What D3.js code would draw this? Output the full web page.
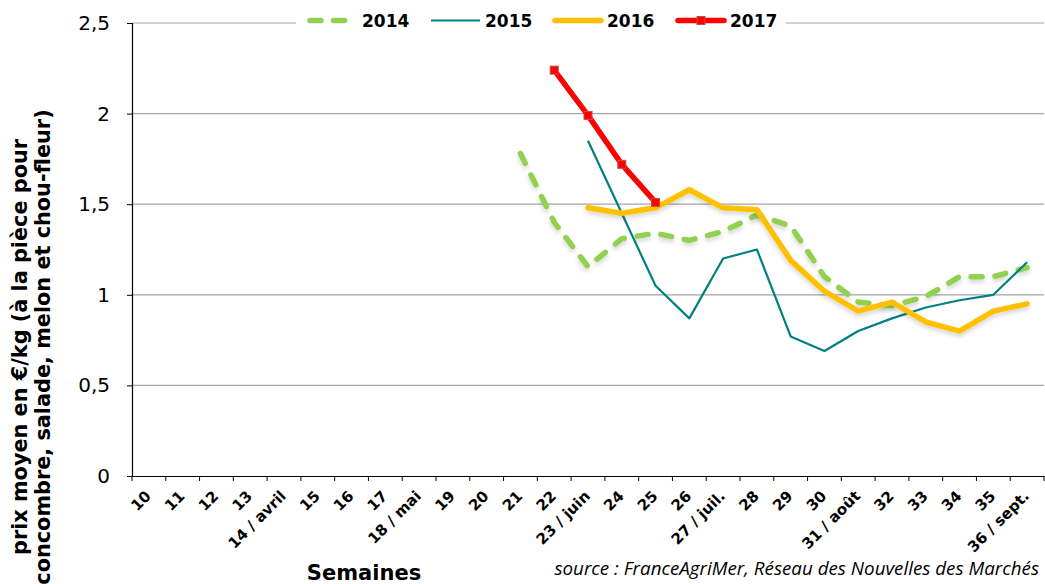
<!DOCTYPE html>
<html><head><meta charset="utf-8">
<script src="https://cdn.jsdelivr.net/npm/d3@7"></script>
<style>body{margin:0;background:#fff}svg{display:block}</style>
</head><body>
<svg id="c" width="1045" height="584"></svg>
<script>
const categories = ["10","11","12","13","14 / avril","15","16","17","18 / mai","19","20","21","22","23 / juin","24","25","26","27 / juil.","28","29","30","31 / août","32","33","34","35","36 / sept."];
const s2014 = [null,null,null,null,null,null,null,null,null,null,null,1.78,1.40,1.155,1.31,1.34,1.30,1.35,1.44,1.38,1.10,0.96,0.94,0.99,1.10,1.10,1.15];
const s2015 = [null,null,null,null,null,null,null,null,null,null,null,null,null,1.85,1.45,1.05,0.87,1.20,1.25,0.77,0.69,0.80,0.87,0.93,0.97,1.00,1.18];
const s2016 = [null,null,null,null,null,null,null,null,null,null,null,null,null,1.48,1.45,1.48,1.58,1.48,1.47,1.19,1.02,0.91,0.96,0.85,0.80,0.91,0.95];
const s2017 = [null,null,null,null,null,null,null,null,null,null,null,null,2.24,1.99,1.72,1.51,null,null,null,null,null,null,null,null,null,null,null];
const yTicks = [0,0.5,1,1.5,2,2.5];
const seriesNames = ["2014","2015","2016","2017"];
const yTitle1 = "prix moyen en €/kg (à la pièce pour";
const yTitle2 = "concombre, salade, melon et chou-fleur)";
const xTitle = "Semaines";
const sourceText = "source : FranceAgriMer, Réseau des Nouvelles des Marchés";

const svg = d3.select("#c");
const L = 132, R = 1044, T = 23, B = 476;
const x = d3.scaleBand().domain(categories).range([L, R]).padding(0);
const y = d3.scaleLinear().domain([0, 2.5]).range([B, T]);
const fmt = v => String(v).replace(".", ",");

const defs = svg.append("defs");
const f = defs.append("filter").attr("id","sh").attr("x","-10%").attr("y","-10%").attr("width","120%").attr("height","140%");
f.append("feDropShadow").attr("dx",0).attr("dy",3).attr("stdDeviation",2).attr("flood-color","#000").attr("flood-opacity",0.16);

// gridlines
svg.append("g").selectAll("line").data(yTicks.filter(d => d > 0)).join("line")
  .attr("x1", L).attr("x2", R).attr("y1", d => y(d)).attr("y2", d => y(d))
  .attr("stroke", "#a6a6a6").attr("stroke-width", 1.2);

// y axis
const ya = svg.append("g").attr("transform", `translate(${L},0)`)
  .call(d3.axisLeft(y).tickValues(yTicks).tickFormat(fmt).tickSize(5).tickPadding(17));
ya.select(".domain").attr("stroke", "#000").attr("stroke-width", 1.2);
ya.selectAll(".tick line").attr("stroke", "#000");
ya.selectAll("text").attr("font-family", "DejaVu Sans").attr("font-size", 20).attr("fill", "#000");

// x axis
const xa = svg.append("g").attr("transform", `translate(0,${B})`)
  .call(d3.axisBottom(x).tickSize(0).tickFormat(""));
xa.select(".domain").attr("stroke", "#000").attr("stroke-width", 1.2);
xa.selectAll(".tick").remove();
const bounds = categories.map(c => x(c)).concat([x(categories[categories.length-1]) + x.bandwidth()]);
xa.append("g").selectAll("line").data(bounds).join("line")
  .attr("x1", d => d).attr("x2", d => d).attr("y1", 0).attr("y2", 5).attr("stroke", "#000");
xa.append("g").selectAll("text").data(categories).join("text")
  .attr("transform", d => `translate(${x(d) + x.bandwidth()/2 + 3},21) rotate(-45)`)
  .attr("text-anchor", "end")
  .attr("font-family", "DejaVu Sans").attr("font-weight", "bold").attr("font-size", 15).attr("fill", "#000")
  .text(d => d);

// lines
const line = d3.line().defined(d => d.v != null).x(d => x(d.c) + x.bandwidth()/2).y(d => y(d.v));
const mk = arr => categories.map((c, i) => ({c, v: arr[i]}));
const g = svg.append("g");
g.append("path").datum(mk(s2014)).attr("d", line).attr("fill","none").attr("stroke","#92d050")
  .attr("stroke-width",5.5).attr("stroke-dasharray","11,13").attr("stroke-linecap","round").attr("stroke-linejoin","round").attr("filter","url(#sh)");
g.append("path").datum(mk(s2015)).attr("d", line).attr("fill","none").attr("stroke","#008080")
  .attr("stroke-width",2.2).attr("stroke-linejoin","round");
g.append("path").datum(mk(s2016)).attr("d", line).attr("fill","none").attr("stroke","#ffc000")
  .attr("stroke-width",5.5).attr("stroke-linecap","round").attr("stroke-linejoin","round").attr("filter","url(#sh)");
g.append("path").datum(mk(s2017)).attr("d", line).attr("fill","none").attr("stroke","#ff0000")
  .attr("stroke-width",5.5).attr("stroke-linecap","round").attr("stroke-linejoin","round");
g.append("g").selectAll("rect").data(mk(s2017).filter(d => d.v != null)).join("rect")
  .attr("x", d => x(d.c) + x.bandwidth()/2 - 4).attr("y", d => y(d.v) - 4)
  .attr("width", 8).attr("height", 8).attr("fill", "#ff0000").attr("stroke", "#c0504d").attr("stroke-width", 1);

// legend
const lg = svg.append("g");
lg.append("rect").attr("x", 296).attr("y", 4).attr("width", 490).attr("height", 32).attr("fill", "#fff");
const legItems = [
  {name: seriesNames[0], x0: 310, x1: 345, tx: 362, color:"#92d050", w:5.5, dash:"11,12.5", cap:"round"},
  {name: seriesNames[1], x0: 431, x1: 480, tx: 485, color:"#008080", w:2.2},
  {name: seriesNames[2], x0: 555, x1: 601, tx: 607, color:"#ffc000", w:5.5, cap:"round"},
  {name: seriesNames[3], x0: 678, x1: 724, tx: 730, color:"#ff0000", w:5.5, cap:"round", marker:true}
];
legItems.forEach(it => {
  lg.append("line").attr("x1", it.x0).attr("x2", it.x1).attr("y1", 20.5).attr("y2", 20.5)
    .attr("stroke", it.color).attr("stroke-width", it.w).attr("stroke-linecap", it.cap || "butt")
    .attr("stroke-dasharray", it.dash || null);
  if (it.marker) lg.append("rect").attr("x", (it.x0+it.x1)/2 - 4).attr("y", 16.5).attr("width", 8).attr("height", 8)
    .attr("fill", "#ff0000").attr("stroke", "#c0504d");
  lg.append("text").attr("x", it.tx).attr("y", 27).text(it.name)
    .attr("font-family","DejaVu Sans").attr("font-weight","bold").attr("font-size",17).attr("fill","#000");
});

// titles
const yt = svg.append("text").attr("transform", "translate(0,347) rotate(-90)")
  .attr("text-anchor","middle").attr("font-family","DejaVu Sans").attr("font-weight","bold").attr("font-size",20.8).attr("fill","#000");
yt.append("tspan").attr("x",0).attr("y",27).text(yTitle1);
yt.append("tspan").attr("x",0).attr("y",50).text(yTitle2);
svg.append("text").attr("x", 364).attr("y", 580).attr("text-anchor","middle")
  .attr("font-family","DejaVu Sans").attr("font-weight","bold").attr("font-size",21).attr("fill","#000").text(xTitle);
svg.append("text").attr("x", 1039).attr("y", 575).attr("text-anchor","end")
  .attr("font-family","Open Sans").attr("font-style","italic").attr("font-size",18.8).attr("fill","#000").text(sourceText);
</script>
</body></html>
